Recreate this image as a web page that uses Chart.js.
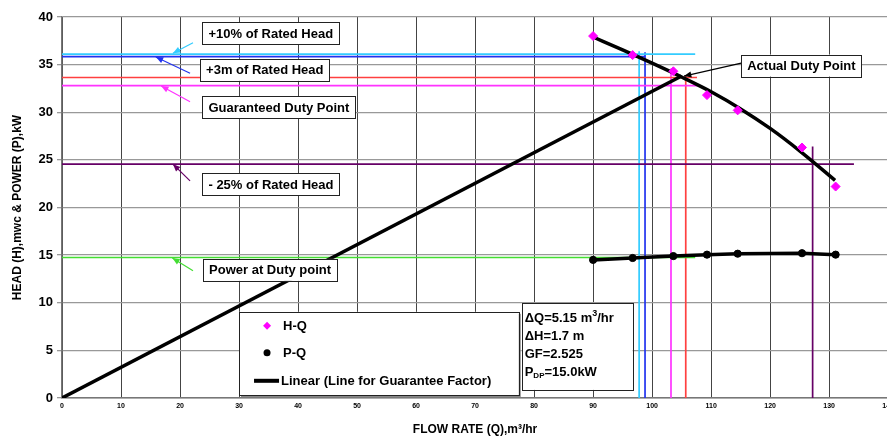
<!DOCTYPE html>
<html>
<head>
<meta charset="utf-8">
<script src="https://cdn.jsdelivr.net/npm/chart.js@4/dist/chart.umd.min.js"></script>
<style>
  html, body { margin: 0; padding: 0; background: #fff; overflow: hidden; }
  #wrap { width: 898px; height: 437px; }
</style>
</head>
<body>
<div id="wrap"><canvas id="chart"></canvas></div>
<script>
// --- data ---
const flowPts = [90, 96.7, 103.6, 109.3, 114.5, 125.4, 131.1];
const headPts = [38.0, 36.0, 34.3, 31.8, 30.2, 26.3, 22.2];
const powerPts = [14.5, 14.7, 14.9, 15.05, 15.15, 15.2, 15.05];

// head trend curve (drawn black through the H-Q points)
const curveFlow = [90, 95, 100, 105, 110, 115, 120, 125, 131];
const curveHead = [37.9, 36.55, 35.15, 33.7, 32.15, 30.35, 28.3, 25.95, 22.85];

// guarantee factor line
const linearFlow = [0, 105];
const linearHead = [0, 33.8];

// horizontal reference lines: level, end flow
const hLevels = [36.1, 35.85, 33.65, 32.8, 24.55, 14.75];
const hEnds = [107.3, 98.8, 107.6, 108.1, 134.2, 107.3];
// vertical reference lines: flow, top head
const vFlows = [97.8, 98.8, 103.2, 105.7, 127.2];
const vTops = [36.4, 36.3, 34.6, 33.9, 26.4];

const xTicks = [0, 10, 20, 30, 40, 50, 60, 70, 80, 90, 100, 110, 120, 130, 140];
const yTicks = [0, 5, 10, 15, 20, 25, 30, 35, 40];

const gfLines = ['ΔQ=5.15 m', 'ΔH=1.7 m', 'GF=2.525', 'P'];

// --- colours ---
const CYAN = '#33ccff', BLUE = '#2233ee', RED = '#ff4040', MAG = '#ff33ff', PURP = '#660066', GREEN = '#44dd33';
const hColors = [CYAN, BLUE, RED, MAG, PURP, GREEN];
const vColors = [CYAN, BLUE, MAG, RED, PURP];

const FONT = 'Arial, "Liberation Sans", sans-serif';

// callouts: box anchor (q,h) = left / vertical centre, arrow from -> to
const notes = [
  { text: '+10% of Rated Head', q: 23.8, h: 38.3, color: CYAN, from: [22.2, 37.3], to: [18.8, 36.2] },
  { text: '+3m of Rated Head', q: 23.4, h: 34.45, color: BLUE, from: [21.7, 34.1], to: [15.9, 35.8] },
  { text: 'Guaranteed Duty Point', q: 23.8, h: 30.55, color: MAG, from: [21.7, 31.1], to: [16.8, 32.75] },
  { text: '- 25% of Rated Head', q: 23.8, h: 22.45, color: PURP, from: [21.7, 22.8], to: [18.8, 24.55] },
  { text: 'Power at Duty point', q: 23.9, h: 13.45, color: GREEN, from: [22.2, 13.35], to: [18.7, 14.7] },
  { text: 'Actual Duty Point', q: 115.1, h: 34.9, color: '#000', from: [115.1, 35.15], to: [105.4, 33.8] }
];

function pts(xs, ys) { return xs.map((v, i) => ({ x: v, y: ys[i] })); }

const datasets = [];
datasets.push({ label: 'H-Q', data: pts(flowPts, headPts), showLine: false,
  pointStyle: 'rectRot', pointRadius: 4.5, backgroundColor: '#ff00ff', borderColor: '#ff00ff', order: 0 });
datasets.push({ label: 'P-Q', data: pts(flowPts, powerPts), showLine: true, borderColor: '#000', borderWidth: 3.5,
  pointStyle: 'circle', pointRadius: 3.6, pointBorderWidth: 1, backgroundColor: '#000', pointBorderColor: '#000', order: 1 });
datasets.push({ label: 'H-Q curve', data: pts(curveFlow, curveHead), showLine: true, borderColor: '#000',
  borderWidth: 3.5, pointRadius: 0, cubicInterpolationMode: 'monotone', order: 2 });
datasets.push({ label: 'Linear', data: pts(linearFlow, linearHead), showLine: true, borderColor: '#000',
  borderWidth: 3.5, pointRadius: 0, order: 3 });
hLevels.forEach((lv, i) => {
  datasets.push({ label: 'h' + i, data: [{ x: 0, y: lv }, { x: hEnds[i], y: lv }], showLine: true,
    borderColor: hColors[i], borderWidth: 1.7, pointRadius: 0, order: 5 });
});
vFlows.forEach((fq, i) => {
  datasets.push({ label: 'v' + i, data: [{ x: fq, y: 0 }, { x: fq, y: vTops[i] }], showLine: true,
    borderColor: vColors[i], borderWidth: 1.7, pointRadius: 0, order: 5 });
});

function box(ctx, l, t, w, h, shadow) {
  if (shadow) {
    ctx.fillStyle = '#888';
    ctx.fillRect(l + 2, t + 2, w, h);
  }
  ctx.fillStyle = '#fff';
  ctx.fillRect(l, t, w, h);
  ctx.strokeStyle = '#222';
  ctx.lineWidth = 1;
  ctx.strokeRect(Math.round(l) + 0.5, Math.round(t) + 0.5, Math.round(w), Math.round(h));
}

function arrow(ctx, x1, y1, x2, y2, color) {
  ctx.strokeStyle = color; ctx.fillStyle = color; ctx.lineWidth = 1.2;
  ctx.beginPath(); ctx.moveTo(x1, y1); ctx.lineTo(x2, y2); ctx.stroke();
  const a = Math.atan2(y2 - y1, x2 - x1), L = 8, W = 0.4;
  ctx.beginPath();
  ctx.moveTo(x2, y2);
  ctx.lineTo(x2 - L * Math.cos(a - W), y2 - L * Math.sin(a - W));
  ctx.lineTo(x2 - L * Math.cos(a + W), y2 - L * Math.sin(a + W));
  ctx.closePath(); ctx.fill();
}

const overlay = {
  id: 'overlay',
  afterDatasetsDraw(chart) {
    const { ctx, scales: { x, y }, chartArea } = chart;
    ctx.save();
    ctx.font = 'bold 13px ' + FONT;
    ctx.textBaseline = 'middle';

    // callouts
    notes.forEach(n => {
      const l = x.getPixelForValue(n.q), cy = y.getPixelForValue(n.h);
      const w = ctx.measureText(n.text).width + 12, h = 22;
      arrow(ctx, x.getPixelForValue(n.from[0]), y.getPixelForValue(n.from[1]),
        x.getPixelForValue(n.to[0]), y.getPixelForValue(n.to[1]), n.color);
      box(ctx, l, cy - h / 2, w, h, false);
      ctx.fillStyle = '#000';
      ctx.textAlign = 'left';
      ctx.fillText(n.text, l + 6, cy + 1);
    });

    // legend
    const lgL = x.getPixelForValue(30), lgT = y.getPixelForValue(9.05);
    const lgR = x.getPixelForValue(77.4), lgB = y.getPixelForValue(0.3);
    box(ctx, lgL, lgT, lgR - lgL, lgB - lgT, true);
    const mx = lgL + 28, tx = lgL + 44;
    const rows = [lgT + 14, lgT + 41, lgT + 69];
    ctx.fillStyle = '#ff00ff';
    ctx.beginPath();
    ctx.moveTo(mx, rows[0] - 4); ctx.lineTo(mx + 4, rows[0]); ctx.lineTo(mx, rows[0] + 4); ctx.lineTo(mx - 4, rows[0]);
    ctx.closePath(); ctx.fill();
    ctx.fillStyle = '#000';
    ctx.beginPath(); ctx.arc(mx, rows[1], 3.5, 0, Math.PI * 2); ctx.fill();
    ctx.fillRect(lgL + 15, rows[2] - 2, 25, 4);
    ctx.textAlign = 'left';
    ctx.fillText('H-Q', tx, rows[0] + 1);
    ctx.fillText('P-Q', tx, rows[1] + 1);
    ctx.fillText('Linear (Line for Guarantee Factor)', tx - 2, rows[2] + 1);

    // guarantee factor box
    const gL = x.getPixelForValue(77.9), gT = y.getPixelForValue(9.97);
    const gR = x.getPixelForValue(96.7), gB = y.getPixelForValue(0.85);
    box(ctx, gL, gT, gR - gL, gB - gT, false);
    const gx = gL + 3;
    const gy = [gT + 14, gT + 32, gT + 50, gT + 68];
    ctx.fillStyle = '#000';
    ctx.font = 'bold 13px ' + FONT;
    ctx.fillText(gfLines[0], gx, gy[0] + 1);
    let w0 = ctx.measureText(gfLines[0]).width;
    ctx.font = 'bold 9px ' + FONT;
    ctx.fillText('3', gx + w0, gy[0] - 4);
    let w1 = ctx.measureText('3').width;
    ctx.font = 'bold 13px ' + FONT;
    ctx.fillText('/hr', gx + w0 + w1, gy[0] + 1);
    ctx.fillText(gfLines[1], gx, gy[1] + 1);
    ctx.fillText(gfLines[2], gx, gy[2] + 1);
    ctx.fillText(gfLines[3], gx, gy[3] + 1);
    let wp = ctx.measureText('P').width;
    ctx.font = 'bold 8px ' + FONT;
    ctx.fillText('DP', gx + wp, gy[3] + 5);
    let wd = ctx.measureText('DP').width;
    ctx.font = 'bold 13px ' + FONT;
    ctx.fillText('=15.0kW', gx + wp + wd, gy[3] + 1);

    // axis titles
    ctx.font = 'bold 12px ' + FONT;
    ctx.textAlign = 'center';
    ctx.fillText('FLOW RATE (Q),m\u00B3/hr', (chartArea.left + chartArea.right) / 2, 430);
    ctx.translate(18, (chartArea.top + chartArea.bottom) / 2);
    ctx.rotate(-Math.PI / 2);
    ctx.fillText('HEAD (H),mwc & POWER (P),kW', 0, 0);
    ctx.restore();
  }
};

new Chart(document.getElementById('chart'), {
  type: 'scatter',
  data: { datasets: datasets },
  plugins: [overlay],
  options: {
    responsive: true,
    maintainAspectRatio: false,
    animation: false,
    layout: { padding: { top: 17, right: 0, left: 0, bottom: 0 } },
    plugins: { legend: { display: false }, tooltip: { enabled: false } },
    scales: {
      x: {
        type: 'linear', min: 0, max: 140,
        afterBuildTicks: s => { s.ticks = xTicks.map(v => ({ value: v })); },
        afterFit: s => { s.height = 39; },
        grid: { color: '#444', lineWidth: 1, drawTicks: false },
        border: { color: '#777', width: 1.5 },
        ticks: { font: { size: 7, weight: 'bold', family: FONT }, color: '#000', padding: 4, maxRotation: 0, autoSkip: false }
      },
      y: {
        type: 'linear', min: 0, max: 40,
        afterBuildTicks: s => { s.ticks = yTicks.map(v => ({ value: v })); },
        afterFit: s => { s.width = 62; },
        grid: { color: '#999', lineWidth: 1.3, tickLength: 5 },
        border: { color: '#777', width: 1.5 },
        ticks: { font: { size: 13, weight: 'bold', family: FONT }, color: '#000', padding: 4 }
      }
    }
  }
});
</script>
</body>
</html>
